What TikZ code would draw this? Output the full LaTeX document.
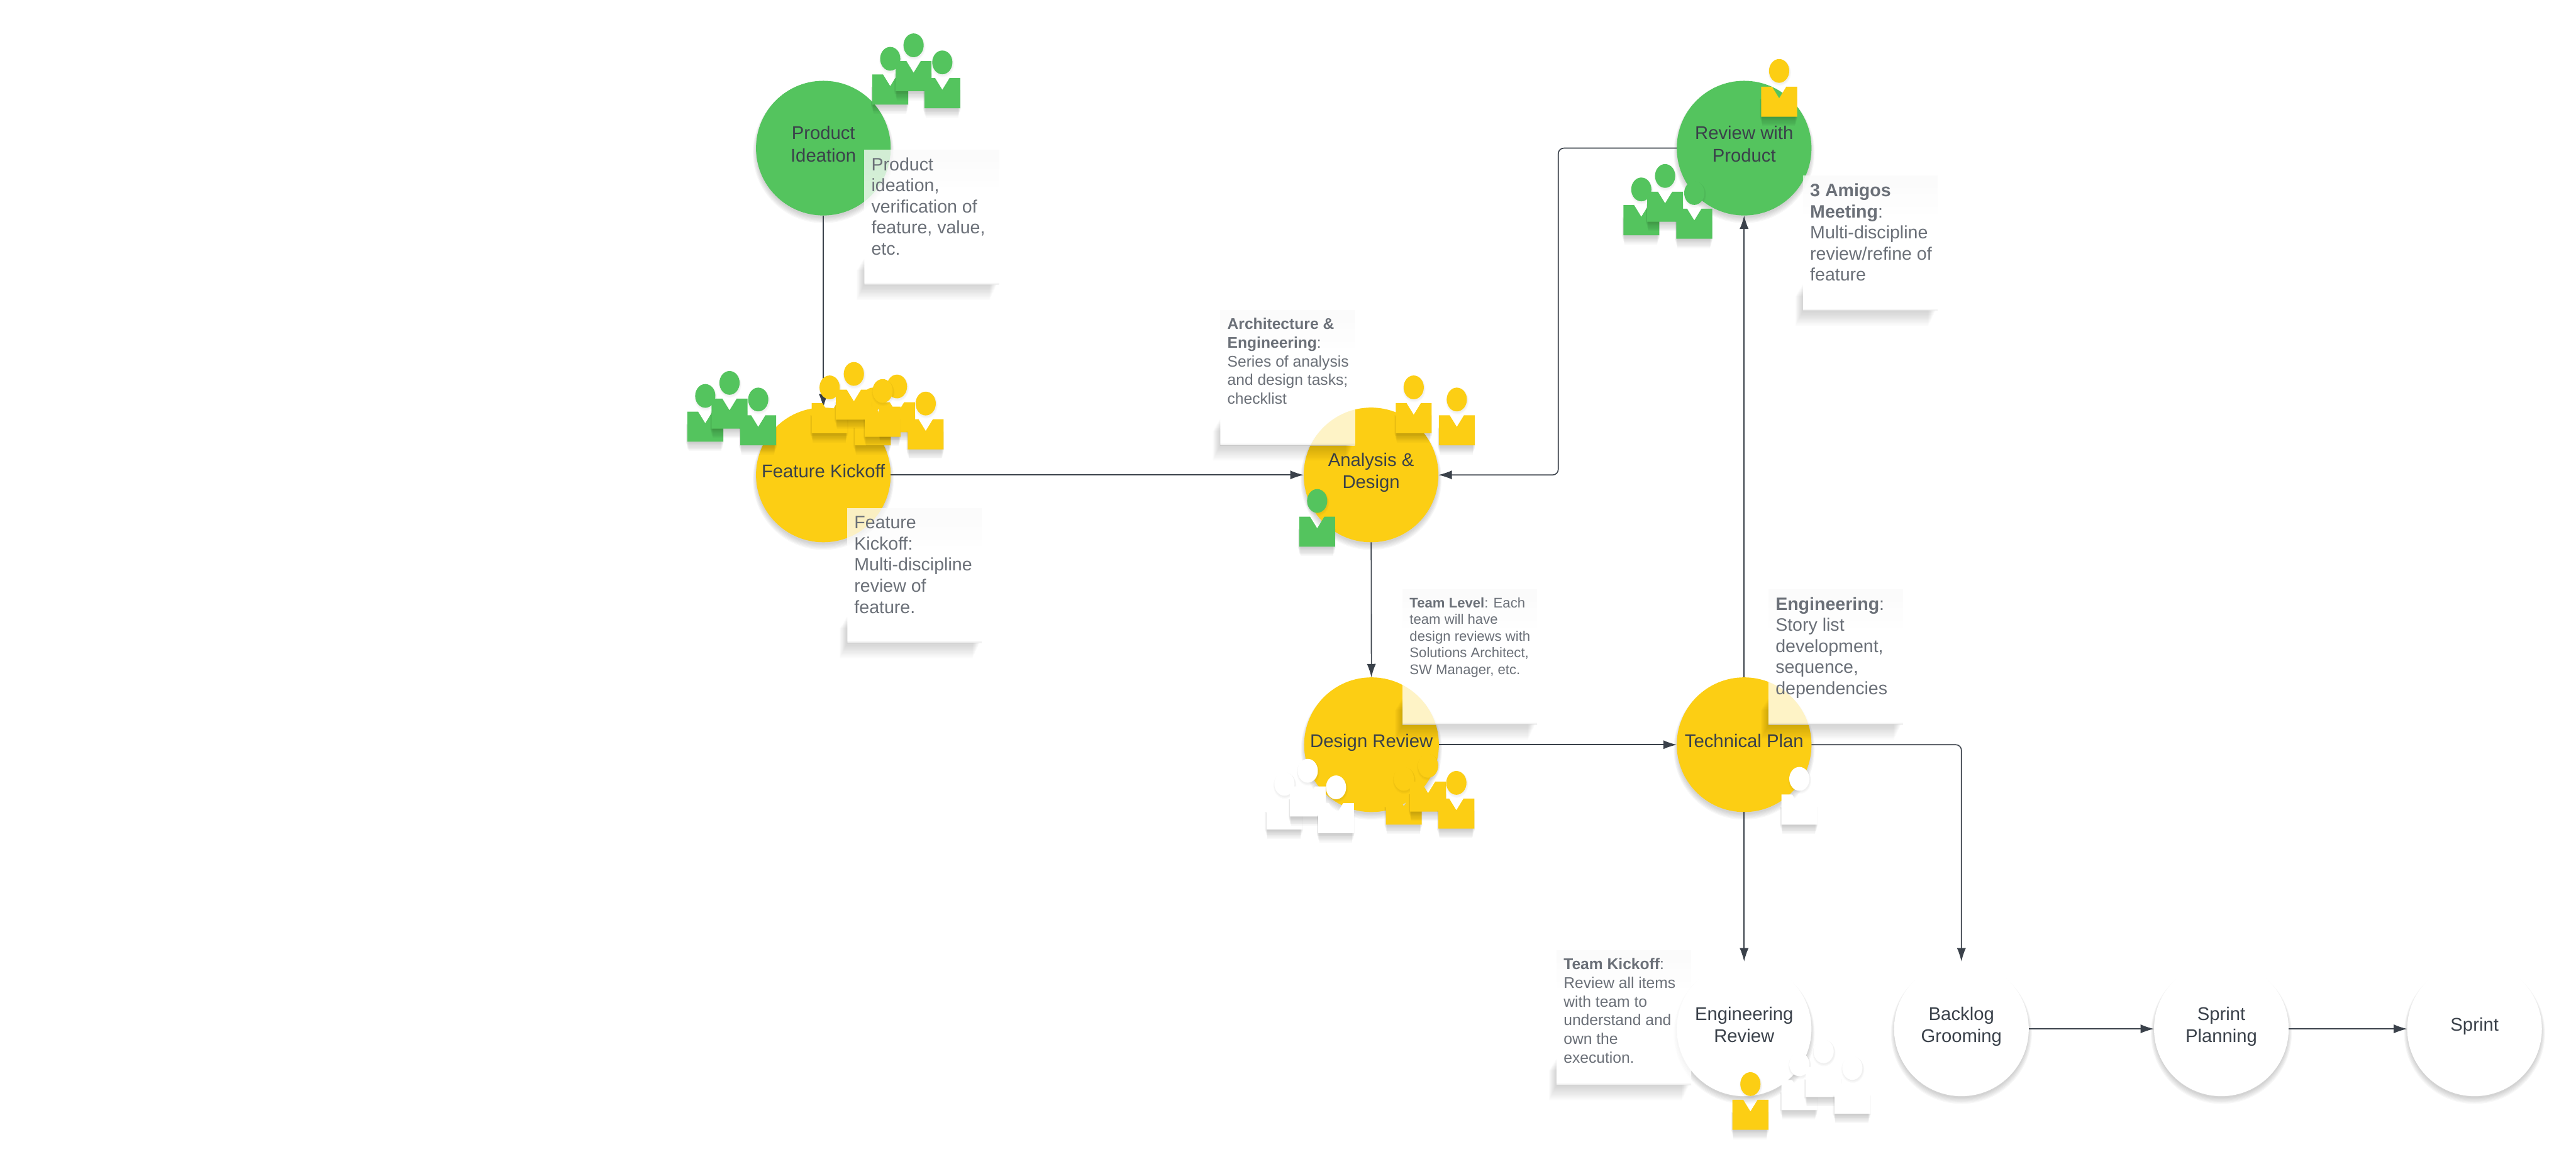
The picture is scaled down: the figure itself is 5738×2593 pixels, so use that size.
\documentclass[tikz,border=0pt]{standalone}
\usepackage{fontspec}
\setmainfont{Liberation Sans}
\usepackage{xcolor}
\usetikzlibrary{
  arrows.meta,
  calc,
  backgrounds
}
\definecolor{ideagreen}{RGB}{84,196,94}
\definecolor{plansun}{RGB}{252,206,20}
\definecolor{inkdark}{RGB}{58,65,74}
\definecolor{inknote}{RGB}{107,112,120}
\pgfdeclareverticalshading{notepaper}{100bp}{
  color(0bp)=(black!7); color(25.4bp)=(black!7); color(25.9bp)=(white);
  color(60bp)=(white); color(72bp)=(black!2); color(100bp)=(black!2)}
\newcommand{\notetext}[2][9.2pt]{\parbox[c][60pt][t]{60pt}{\raggedright\leftskip=3.2pt\rule{0pt}{#1}#2}}
\newcommand{\noteshadow}[1]{
  \foreach \k in {1,...,11}{
    \fill[black,opacity=.016]
      ($(#1.south west)+(0,-60+2.5*\k)$) -- ++(-1.5*\k,0)
      |- ($(#1.south east)+(-4-1.5*\k,3.1*\k)$)
      |- (#1.south west) -- cycle;
  }
}
\tikzset{
  pics/person/.style={code={
    \foreach \k in {1,...,8}{
      \fill[black,opacity=.028] (-44+.8*\k,26+\k) rectangle (42-.8*\k,67+2.6*\k);
    }
    \foreach \k in {1,2,3}{
      \fill[black,opacity=.02] (1,-34+\k) ellipse [x radius=22.5+\k,y radius=26.5+\k];
    }
    \fill[#1] (0,-35) ellipse [x radius=22.5,y radius=26.5];
    \fill[#1] (-40,0) -- (-16,0) -- (0,26) -- (16,0) -- (40,0) -- (40,67) -- (-40,67) -- cycle;
  }},
}
\begin{document}
\begin{tikzpicture}[
  x=.2pt,y=-.2pt,
  bubble/.style={circle,minimum size=60pt,inner sep=0pt,outer sep=0pt,align=center,text=inkdark,
    font=\fontsize{8.2}{9.9}\selectfont,execute at end node={\rule[-3.8pt]{0pt}{0pt}}},
  note/.style={rectangle,shading=notepaper,fill opacity=.76,text opacity=1,text=inknote,
    minimum size=60pt,inner sep=0pt,outer sep=0pt,anchor=north west,align=left},
  notebig/.style={font=\fontsize{8}{9.4}\selectfont},
  notemid/.style={font=\fontsize{6.9}{8.3}\selectfont},
  notesmall/.style={font=\fontsize{6.2}{7.4}\selectfont},
  flow/.style={-{Latex[length=6pt,width=4pt]},draw=inkdark,line width=.45pt},
]
\useasboundingbox (0,0) rectangle (5738,2593);
% stages
\node[bubble,fill=ideagreen] (ideation) at (1834,330) {Product\\Ideation};
\node[bubble,fill=plansun] (kickoff) at (1834,1058) {Feature Kickoff};
\node[bubble,fill=plansun] (analysis) at (3054,1058) {Analysis \&\\Design};
\node[bubble,fill=plansun] (designrev) at (3055,1659) {Design Review};
\node[bubble,fill=plansun] (techplan) at (3885,1659) {Technical Plan};
\node[bubble,fill=ideagreen] (prodrev) at (3885,330) {Review with\\Product};
\node[bubble,fill=white] (engrev) at (3885,2292) {Engineering\\Review};
\node[bubble,fill=white] (backlog) at (4369,2292) {Backlog\\Grooming};
\node[bubble,fill=white] (planning) at (4948,2292) {Sprint\\Planning};
\node[bubble,fill=white] (sprint) at (5512,2292) {Sprint};
\begin{pgfonlayer}{background}
\foreach \b in {ideation,kickoff,analysis,designrev,techplan,prodrev,engrev,backlog,planning,sprint}{
  \foreach \k in {1,...,6}{
    \fill[black,opacity=.03] ($(\b)+(0,4+\k)$) circle [radius=148+1.5*\k];
  }
}
\end{pgfonlayer}
% sticky notes
\node[note,notebig] (noteidea) at (1925,334) {\notetext{Product\\ideation,\\verification of\\feature, value,\\etc.}};
\node[note,notebig] (notefeat) at (1887,1132) {\notetext{Feature\\Kickoff:\\Multi-discipline\\review of\\feature.}};
\node[note,notemid] (notearch) at (2718,692) {\notetext[8.4pt]{\textbf{Architecture \&\\Engineering}:\\Series of analysis\\and design tasks;\\checklist}};
\node[note,notesmall] (noteteam) at (3124,1314) {\notetext[8pt]{\textbf{Team Level}: Each\\team will have\\design reviews with\\Solutions Architect,\\SW Manager, etc.}};
\node[note,notebig] (noteeng) at (3939,1314) {\notetext[9pt]{\textbf{Engineering}:\\Story list\\development,\\sequence,\\dependencies}};
\node[note,notebig] (noteamigo) at (4016,392) {\notetext{\textbf{3 Amigos\\Meeting}:\\Multi-discipline\\review/refine of\\feature}};
\node[note,notemid] (notekick) at (3467,2117) {\notetext[8.6pt]{\textbf{Team Kickoff}:\\Review all items\\with team to\\understand and\\own the\\execution.}};
\foreach \n in {noteidea,notefeat,notearch,noteteam,noteeng,noteamigo,notekick}{
  \noteshadow{\n}
}
% connectors
\draw[flow] (ideation) -- (kickoff);
\draw[flow] (kickoff) -- (analysis);
\draw[flow] (analysis) -- (designrev);
\draw[flow] (designrev) -- (techplan);
\draw[flow] (techplan) -- (prodrev);
\draw[flow,rounded corners=2.5pt] (prodrev.west) -- ++(-264,0) |- (analysis.east);
\draw[flow] (techplan) -- (engrev);
\draw[flow,rounded corners=2.5pt] (techplan.east) -| (backlog.north);
\draw[flow] (backlog) -- (planning);
\draw[flow] (planning) -- (sprint);
% people
\foreach \x/\y in {1983/166,2035/136,2099/174}{ \pic at (\x,\y) {person=ideagreen}; }
\foreach \x/\y in {1571/917,1625/888,1689/925}{ \pic at (\x,\y) {person=ideagreen}; }
\foreach \x/\y in {1944/925,1998/896,1848/898,1902/868,1966/906,2062/934}{ \pic at (\x,\y) {person=plansun}; }
\foreach \x/\y in {3149/898,3245/925}{ \pic at (\x,\y) {person=plansun}; }
\pic at (2934,1151) {person=ideagreen};
\foreach \x/\y in {2861/1781,2913/1752,2976/1789}{ \pic at (\x,\y) {person=white}; }
\foreach \x/\y in {3127/1770,3181/1741,3244/1779}{ \pic at (\x,\y) {person=plansun}; }
\pic at (4008,1770) {person=white};
\pic at (3963,193) {person=plansun};
\foreach \x/\y in {3656/457,3709/427,3774/465}{ \pic at (\x,\y) {person=ideagreen}; }
\pic at (3899,2450) {person=plansun};
\foreach \x/\y in {4008/2406,4062/2377,4126/2414}{ \pic at (\x,\y) {person=white}; }
\end{tikzpicture}
\end{document}
